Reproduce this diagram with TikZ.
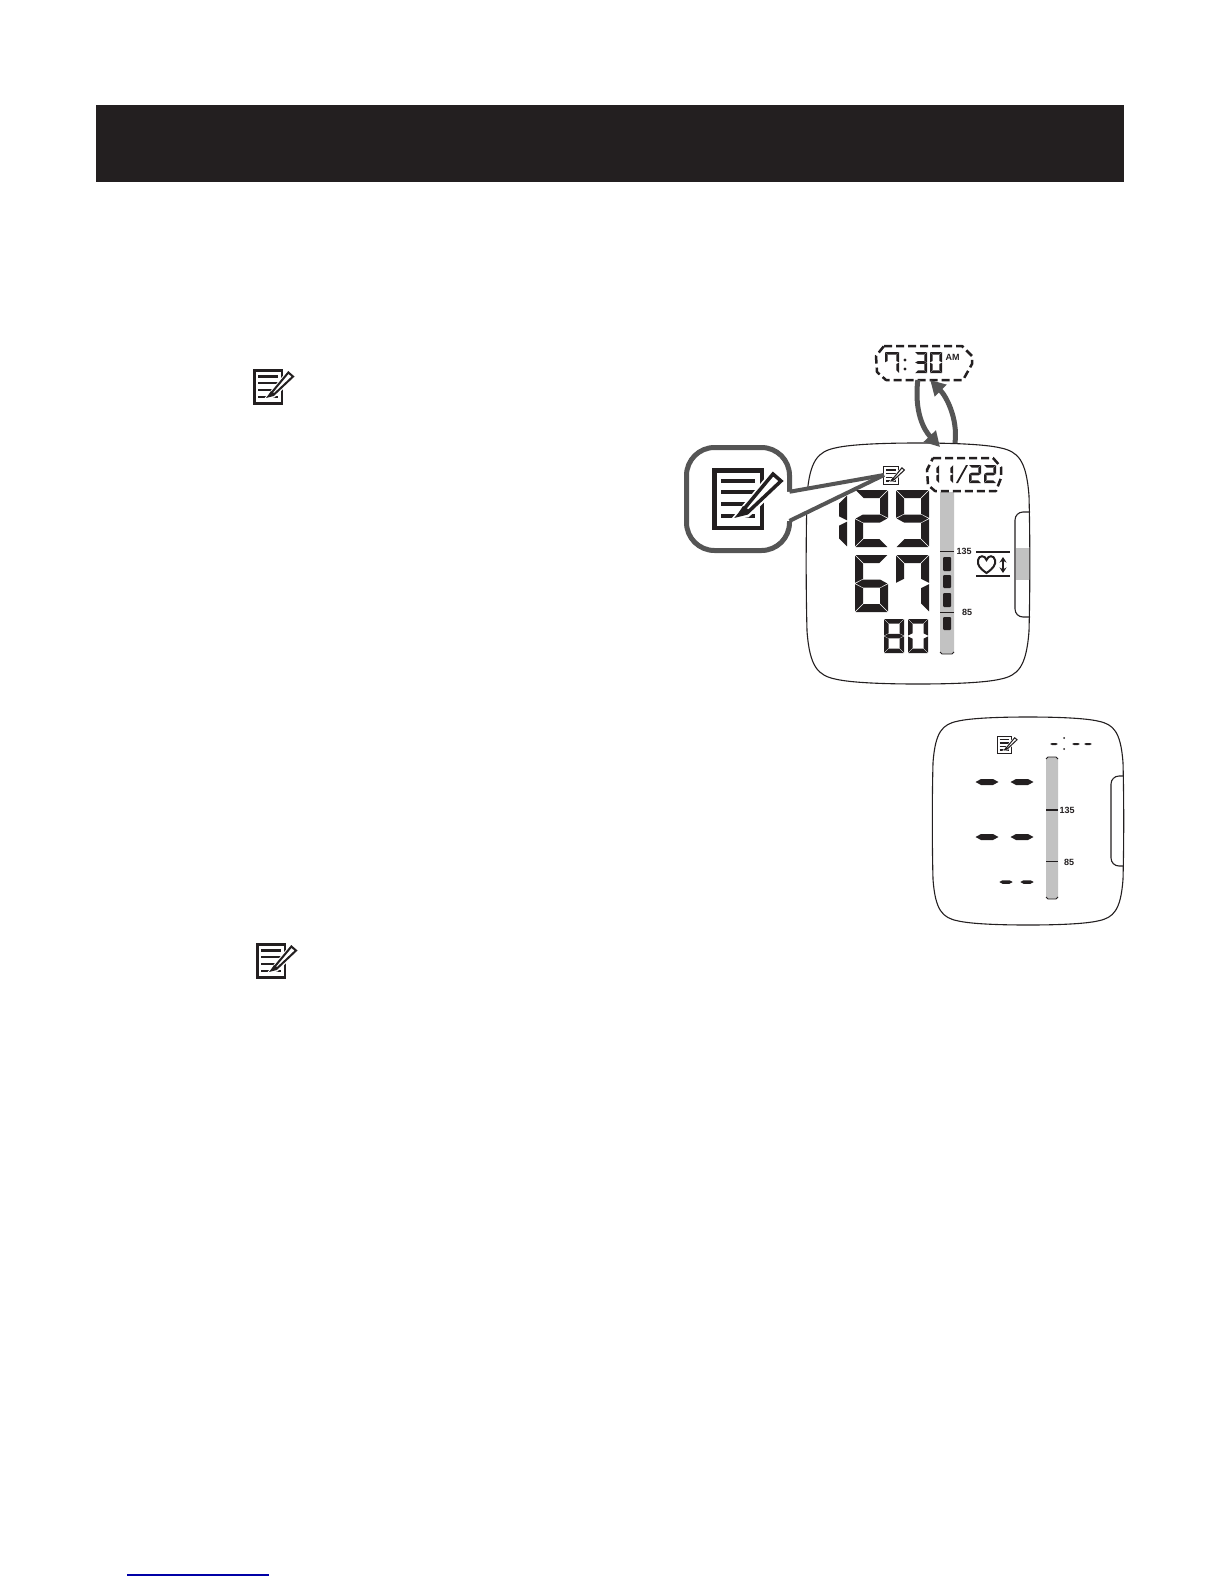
\documentclass[tikz,border=0pt]{standalone}
\usepackage{fontspec}
\setmainfont{Liberation Sans}
\usepackage{tikz}
\usetikzlibrary{arrows.meta,calc}
\definecolor{lcdblack}{HTML}{231F20}
\definecolor{lcdgray}{HTML}{C2C2C2}
\definecolor{pointergray}{HTML}{555555}
\tikzstyle{outline}=[draw=lcdblack,line width=1.1pt]
\tikzstyle{dashbox}=[draw=lcdblack,line width=2.5pt,dash pattern=on 8pt off 4pt,line join=round]
\tikzstyle{anchorbox}=[inner sep=0pt,outer sep=0pt]
\tikzstyle{swaparrow}=[-{Triangle[length=15pt,width=16pt]},line width=5pt,draw=pointergray]
\tikzstyle{scalelabel}=[text=lcdblack,inner sep=0pt,font=\fontsize{9}{10}\selectfont\bfseries]

% one segment each, inside the box of a digit
\newcommand{\lcdsega}{\fill[lcdblack] (\dgg,0) -- (\dgw-\dgg,0) -- (\dgw-\dgt-\dgg,\dgt) -- (\dgt+\dgg,\dgt) -- cycle;}
\newcommand{\lcdsegd}{\fill[lcdblack] (\dgg,\dgh) -- (\dgw-\dgg,\dgh) -- (\dgw-\dgt-\dgg,\dgh-\dgt) -- (\dgt+\dgg,\dgh-\dgt) -- cycle;}
\newcommand{\lcdsegf}{\fill[lcdblack] (0,\dgg) -- (\dgt,\dgt+\dgg) -- (\dgt,\dgh/2-\dgt/2-\dgg) -- (0,\dgh/2-\dgg) -- cycle;}
\newcommand{\lcdsege}{\fill[lcdblack] (0,\dgh-\dgg) -- (\dgt,\dgh-\dgt-\dgg) -- (\dgt,\dgh/2+\dgt/2+\dgg) -- (0,\dgh/2+\dgg) -- cycle;}
\newcommand{\lcdsegb}{\fill[lcdblack] (\dgw,\dgg) -- (\dgw-\dgt,\dgt+\dgg) -- (\dgw-\dgt,\dgh/2-\dgt/2-\dgg) -- (\dgw,\dgh/2-\dgg) -- cycle;}
\newcommand{\lcdsegc}{\fill[lcdblack] (\dgw,\dgh-\dgg) -- (\dgw-\dgt,\dgh-\dgt-\dgg) -- (\dgw-\dgt,\dgh/2+\dgt/2+\dgg) -- (\dgw,\dgh/2+\dgg) -- cycle;}
\newcommand{\lcdsegg}{\fill[lcdblack] (\dgg,\dgh/2) -- (\dgt,\dgh/2-\dgt/2) -- (\dgw-\dgt,\dgh/2-\dgt/2) -- (\dgw-\dgg,\dgh/2) -- (\dgw-\dgt,\dgh/2+\dgt/2) -- (\dgt,\dgh/2+\dgt/2) -- cycle;}
% x, y, width, height, thickness, segments
\newcommand{\lcddigit}[6]{
	\begin{scope}[shift={(#1,#2)}]
	\pgfmathsetmacro{\dgw}{#3}
	\pgfmathsetmacro{\dgh}{#4}
	\pgfmathsetmacro{\dgt}{#5}
	\pgfmathsetmacro{\dgg}{#5*0.09}
	\foreach \seg in {#6} {\csname lcdseg\seg\endcsname}
	\end{scope}
}
% x, y, scale
\newcommand{\noteicon}[3]{
	\begin{scope}[shift={(#1,#2)},scale=#3]
	\draw[lcdblack,line width=#3*4.5pt] (2.25,2.25) rectangle (49.75,59.75);
	\foreach \liney in {13,24,36,48}
		\draw[lcdblack,line width=#3*4pt] (9,\liney) -- (43,\liney);
	\draw[white,fill=white,line width=#3*7pt] (27,47) -- (61,6) -- (69,13) -- (35,46) -- cycle;
	\draw[lcdblack,fill=white,line width=#3*3.5pt,line join=miter] (27,47) -- (61,6) -- (69,13) -- (35,45) -- cycle;
	\fill[lcdblack] (24,49) -- (31,38) -- (39,43) -- cycle;
	\end{scope}
}
% x, y, width, height
\newcommand{\devicebody}[4]{
	\draw[outline] (#1+0.5*#3,#2) .. controls (#1+0.35*#3,#2) and (#1+0.2*#3,#2+0.005*#4) .. (#1+0.13*#3,#2+0.02*#4)
	.. controls (#1+0.05*#3,#2+0.035*#4) and (#1+0.012*#3,#2+0.07*#4) .. (#1,#2+0.22*#4)
	.. controls (#1-0.005*#3,#2+0.4*#4) and (#1-0.005*#3,#2+0.6*#4) .. (#1,#2+0.78*#4)
	.. controls (#1+0.012*#3,#2+0.93*#4) and (#1+0.05*#3,#2+0.965*#4) .. (#1+0.13*#3,#2+0.98*#4)
	.. controls (#1+0.2*#3,#2+0.995*#4) and (#1+0.35*#3,#2+#4) .. (#1+0.5*#3,#2+#4)
	.. controls (#1+0.65*#3,#2+#4) and (#1+0.8*#3,#2+0.995*#4) .. (#1+0.87*#3,#2+0.98*#4)
	.. controls (#1+0.95*#3,#2+0.965*#4) and (#1+0.988*#3,#2+0.93*#4) .. (#1+#3,#2+0.78*#4)
	.. controls (#1+1.005*#3,#2+0.6*#4) and (#1+1.005*#3,#2+0.4*#4) .. (#1+#3,#2+0.22*#4)
	.. controls (#1+0.988*#3,#2+0.07*#4) and (#1+0.95*#3,#2+0.035*#4) .. (#1+0.87*#3,#2+0.02*#4)
	.. controls (#1+0.8*#3,#2+0.005*#4) and (#1+0.65*#3,#2) .. cycle;
}

\begin{document}
\begin{tikzpicture}[y=-1pt, x=1pt]
	\useasboundingbox (0,0) rectangle (1224,1584);

	%header
	\fill[lcdblack] (96,105) rectangle (1124,182);

	%note icons in the text
	\noteicon{253}{369}{.58}
	\noteicon{256}{943}{.58}

	%first display
	\fill[lcdgray] (1016,548) rectangle (1030,580);
	\draw[outline] (1030,512) -- (1023,512) to[out=180,in=90] (1015,520) -- (1015,609) to[out=-90,in=180] (1023,617) -- (1030,617);
	\devicebody{807}{443}{222}{241}

	\fill[lcdgray] (940,492) -- (954,492) -- (954,652) -- (952,654) -- (942,654) -- (940,652) -- cycle;
	\draw[lcdblack,line width=.8pt] (940,652) -- (942,654) -- (952,654) -- (954,652);
	\draw[lcdblack,line width=1pt] (940,551) -- (954,551);
	\draw[lcdblack,line width=1pt] (940,612) -- (954,612);
	\foreach \blocktop/\blockbot in {557/571,575/588,593/607,617/630}
		\fill[lcdblack,rounded corners=1pt] (943,\blocktop) rectangle (951,\blockbot);
	\node[scalelabel] (labela) at (964,551) {135};
	\node[scalelabel] (labelb) at (967,612) {85};

	%heart
	\draw[lcdblack,line width=1.2pt] (976,552) -- (1010,552);
	\draw[lcdblack,line width=1.2pt] (976,576) -- (1010,576);
	\draw[lcdblack,line width=2pt] (986.5,573) .. controls (980,568.5) and (977,565) .. (978,560)
	.. controls (979,555) and (985,555) .. (986.5,560) .. controls (988,555) and (994,555) .. (995,560)
	.. controls (996,565) and (993,568.5) .. cycle;
	\draw[{Stealth[length=5.5pt,width=7pt]}-{Stealth[length=5.5pt,width=7pt]},lcdblack,line width=1.7pt] (1003,557) -- (1003,573);

	%measured values
	\lcddigit{839}{495}{8}{52}{8}{b,c}
	\lcddigit{855}{490}{33}{57}{8}{a,b,g,e,d}
	\lcddigit{896}{490}{33}{57}{8}{a,b,c,d,f,g}
	\lcddigit{855}{555}{33}{57}{8}{a,c,d,e,f,g}
	\lcddigit{896}{555}{33}{57}{8}{a,b,c,f}
	\lcddigit{884}{619}{20}{34}{4.5}{a,b,c,d,e,f,g}
	\lcddigit{908}{619}{20}{34}{4.5}{a,b,c,d,e,f}

	%time and date
	\node[anchorbox,minimum width=96pt,minimum height=34pt] (timebox) at (924,363) {};
	\node[anchorbox,minimum width=75pt,minimum height=34pt] (datebox) at (964.5,475) {};
	\draw[dashbox] (884,346) -- (962,346) -- (972,356) -- (972,364) -- (963,380) -- (886,380) -- (877,372) -- (876,356) -- cycle;
	\draw[dashbox] (933,458) -- (993,458) -- (1001,467) -- (1001,478) -- (996,491) -- (935,491) -- (928,485) -- (927,470) -- cycle;
	\lcddigit{885}{352}{14}{21}{2.6}{a,b,c,f}
	\fill[lcdblack] (905,360) circle (1.6pt) (905,369) circle (1.6pt);
	\lcddigit{915}{352}{12}{21}{2.6}{a,b,c,d,g}
	\lcddigit{930}{352}{12}{21}{2.6}{a,b,c,d,e,f}
	\node[scalelabel] (amlabel) at (952.5,357) {AM};
	\lcddigit{936}{465}{3}{18}{2.6}{b,c}
	\lcddigit{950}{465}{3}{18}{2.6}{b,c}
	\fill[lcdblack] (956,483) -- (958,483) -- (968,465) -- (966,465) -- cycle;
	\lcddigit{969}{465}{12}{18}{2.6}{a,b,g,e,d}
	\lcddigit{984}{465}{12}{18}{2.6}{a,b,g,e,d}

	\coordinate (datetip) at (940,447);
	\coordinate (datetail) at (955,443);
	\draw[swaparrow] (timebox.250) .. controls (914,412) and (924,430) .. (datetip);
	\draw[swaparrow] (datetail) .. controls (958,418) and (946,396) .. (timebox.290);

	%callout
	\noteicon{883}{466}{.31}
	\node[draw=pointergray,line width=5pt,fill=white,rounded corners=28pt,minimum width=103pt,minimum height=103pt,inner sep=0pt,outer sep=0pt] (calloutbox) at (738,499) {};
	\noteicon{712}{468}{1}
	\coordinate (icontip) at (884,475);
	\fill[white] (calloutbox.8) -- (icontip) -- (calloutbox.-23) -- ++(-6,0) -- ($(calloutbox.8)+(-6,0)$) -- cycle;
	\draw[pointergray,line width=4pt] (calloutbox.8) -- (icontip);
	\draw[pointergray,line width=4pt] (calloutbox.-23) -- (icontip);

	%second display
	\draw[outline] (1123,776) -- (1119,776) to[out=180,in=90] (1111,784) -- (1111,858) to[out=-90,in=180] (1119,866) -- (1123,866);
	\devicebody{933}{717}{190}{208}
	\noteicon{997}{736}{.29}
	\fill[lcdgray,rounded corners=2pt] (1046,757) rectangle (1058,899);
	\draw[lcdblack,line width=.8pt] (1046,759) -- (1048,757) -- (1056,757) -- (1058,759);
	\draw[lcdblack,line width=.8pt] (1046,897) -- (1048,899) -- (1056,899) -- (1058,897);
	\draw[lcdblack,line width=1.6pt] (1046,810) -- (1058,810);
	\draw[lcdblack,line width=.9pt] (1046,861) -- (1058,861);
	\node[scalelabel] (labelc) at (1067,810) {135};
	\node[scalelabel] (labeld) at (1069,862) {85};
	\lcddigit{975}{782}{24}{0}{6}{g}
	\lcddigit{1010}{782}{24}{0}{6}{g}
	\lcddigit{975}{837}{24}{0}{6}{g}
	\lcddigit{1010}{837}{24}{0}{6}{g}
	\lcddigit{999}{882}{14}{0}{3.5}{g}
	\lcddigit{1020}{882}{14}{0}{3.5}{g}
	\lcddigit{1050}{744}{8}{0}{2}{g}
	\lcddigit{1072}{744}{8}{0}{2}{g}
	\lcddigit{1084}{744}{8}{0}{2}{g}
	\fill[lcdblack] (1064,738) circle (1pt) (1064,749) circle (1pt);

	%link
	\draw[draw=blue!65!black,line width=1.3pt] (127,1575) -- (269,1575);
\end{tikzpicture}
\end{document}
